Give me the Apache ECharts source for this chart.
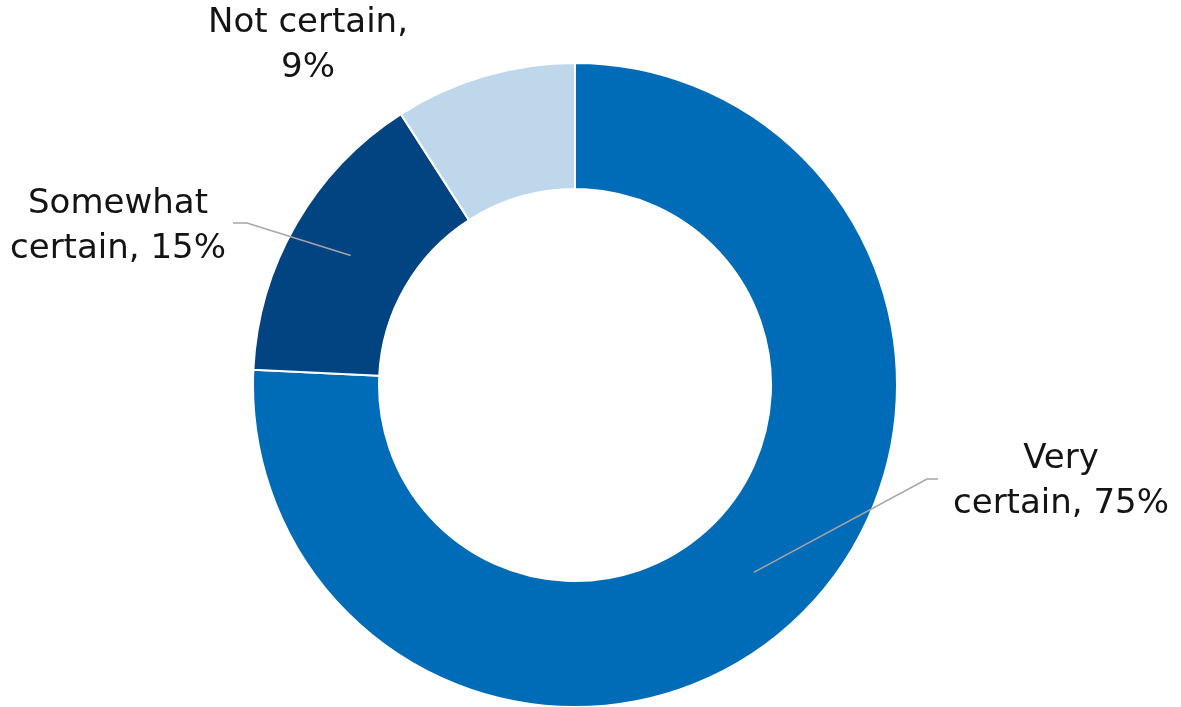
<!DOCTYPE html>
<html>
<head>
<meta charset="utf-8">
<script src="https://cdn.jsdelivr.net/npm/echarts@6/dist/echarts.min.js"></script>
<style>
  html, body { margin: 0; padding: 0; background: #ffffff; }
  #chart { width: 1181px; height: 707px; }
</style>
</head>
<body>
<div id="chart"></div>
<script>
// Survey responses: how certain respondents are
const categories = ['Very certain', 'Somewhat certain', 'Not certain'];
const percents = [75, 15, 9];
const labelLines = [['Very', 'certain, 75%'], ['Somewhat', 'certain, 15%'], ['Not certain,', '9%']];
const sliceColors = ['#006bb6', '#024382', '#bfd7ea'];

// Label block centers and leader-line elbows (null = no leader line)
const labelAnchors = [[1061, 482], [118, 227], [308, 46]];
const leaderElbows = [[[927, 479], [938, 479]], [[247, 223], [233, 223]], null];

const chart = echarts.init(document.getElementById('chart'), null, { renderer: 'canvas' });

chart.setOption({
  animation: false,
  series: [{
    type: 'pie',
    center: [575, 385],
    radius: [196, 322],
    startAngle: 90,
    clockwise: true,
    avoidLabelOverlap: false,
    itemStyle: { borderColor: '#ffffff', borderWidth: 2 },
    label: {
      show: true,
      position: 'outside',
      formatter: p => labelLines[p.dataIndex].join('\n'),
      fontFamily: 'DejaVu Sans',
      fontSize: 34,
      lineHeight: 45,
      color: '#141414',
      align: 'center'
    },
    labelLine: { show: false },
    labelLayout: params => ({
      x: labelAnchors[params.dataIndex][0],
      y: labelAnchors[params.dataIndex][1],
      align: 'center',
      verticalAlign: 'middle'
    }),
    data: categories.map((name, i) => ({
      name: name,
      value: percents[i],
      itemStyle: { color: sliceColors[i] }
    }))
  }]
});

// Leader lines start at the middle of each ring segment, taken from the pie layout
const pieData = chart.getModel().getSeriesByIndex(0).getData();
const leaders = [];
leaderElbows.forEach((elbow, i) => {
  if (!elbow) return;
  const l = pieData.getItemLayout(i);
  const mid = (l.startAngle + l.endAngle) / 2;
  const r = (l.r + l.r0) / 2;
  const start = [l.cx + r * Math.cos(mid), l.cy + r * Math.sin(mid)];
  leaders.push({
    type: 'polyline',
    z: 10,
    silent: true,
    shape: { points: [start, elbow[0], elbow[1]] },
    style: { stroke: '#a6a6a6', lineWidth: 1.5, fill: null }
  });
});
chart.setOption({ graphic: leaders });
</script>
</body>
</html>
